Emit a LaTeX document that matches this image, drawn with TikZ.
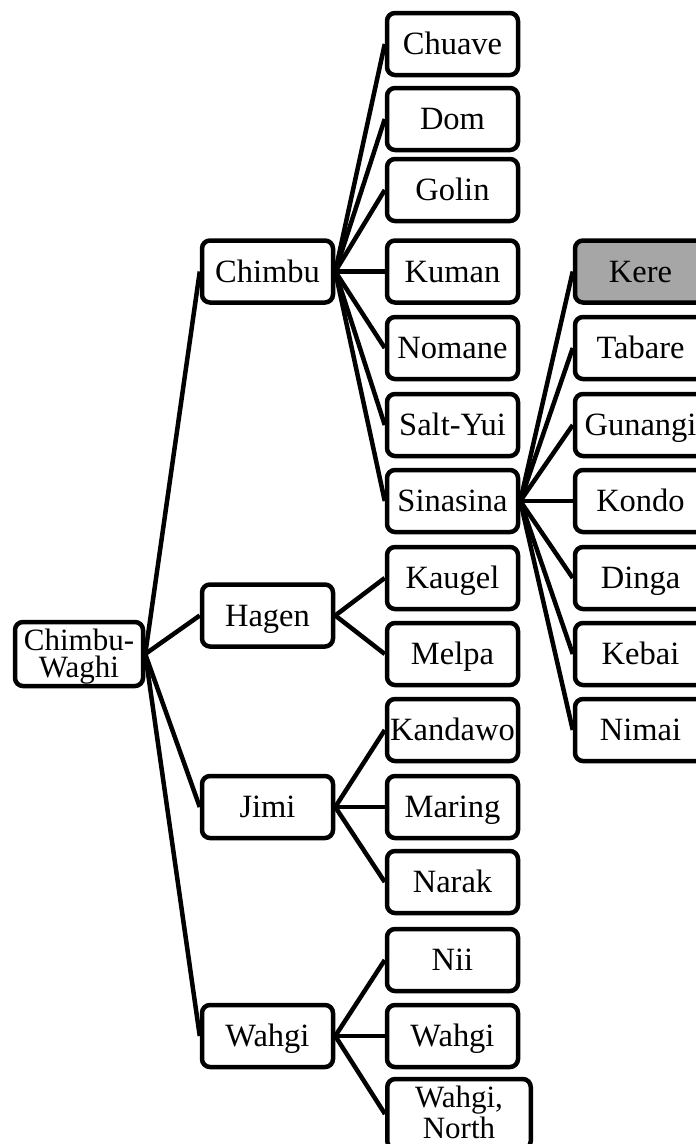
\documentclass[tikz,border=0pt]{standalone}
\usepackage{fontspec}
\setmainfont{Liberation Serif}
\definecolor{keregray}{RGB}{166,166,166}
\tikzset{
  boxframe/.style={draw=black, line width=4.5pt, rounded corners=8pt, fill=white,
    minimum width=131pt, minimum height=62pt, inner sep=0pt},
  langbox/.style={boxframe, font=\fontsize{32.5}{34}\selectfont,
    text height=21.5pt, text depth=0pt},
  linetext/.style={anchor=base, inner sep=0pt, font=\fontsize{31}{33}\selectfont},
  link/.style={draw=black, line width=4.5pt}
}
\begin{document}
\begin{tikzpicture}[x=1pt,y=-1pt]
\useasboundingbox (0,0) rectangle (696,1144);
\clip (0,0) rectangle (696,1144);
% level 0
\node[boxframe, minimum width=128pt, minimum height=64pt] (root) at (79,654) {};
\node[linetext] (rootA) at (79,650) {Chimbu-};
\node[linetext] (rootB) at (79,677) {Waghi};
% level 1
\node[langbox] (chimbu) at (267.5,271.5) {Chimbu};
\node[langbox] (hagen) at (267.5,615.5) {Hagen};
\node[langbox] (jimi) at (267.5,807) {Jimi};
\node[langbox] (wahgiA) at (267.5,1036) {Wahgi};
% level 2
\node[langbox] (chuave) at (452.5,44) {Chuave};
\node[langbox] (dom) at (452.5,119) {Dom};
\node[langbox] (golin) at (452.5,190) {Golin};
\node[langbox] (kuman) at (452.5,271.5) {Kuman};
\node[langbox] (nomane) at (452.5,348) {Nomane};
\node[langbox] (saltyui) at (452.5,425) {Salt-Yui};
\node[langbox] (sinasina) at (452.5,501) {Sinasina};
\node[langbox] (kaugel) at (452.5,578) {Kaugel};
\node[langbox] (melpa) at (452.5,654) {Melpa};
\node[langbox] (kandawo) at (452.5,730) {Kandawo};
\node[langbox] (maring) at (452.5,807) {Maring};
\node[langbox] (narak) at (452.5,882) {Narak};
\node[langbox] (nii) at (452.5,960) {Nii};
\node[langbox] (wahgiB) at (452.5,1036) {Wahgi};
\node[boxframe, minimum width=143.5pt, minimum height=70pt] (wahgiN) at (459,1114) {};
\node[linetext] (wahgiNA) at (459,1107) {Wahgi,};
\node[linetext] (wahgiNB) at (459,1138) {North};
% level 3
\node[langbox, fill=keregray] (kere) at (640.5,271.5) {Kere};
\node[langbox] (tabare) at (640.5,348) {Tabare};
\node[langbox] (gunangi) at (640.5,425) {Gunangi};
\node[langbox] (kondo) at (640.5,501) {Kondo};
\node[langbox] (dinga) at (640.5,578) {Dinga};
\node[langbox] (kebai) at (640.5,654) {Kebai};
\node[langbox] (nimai) at (640.5,730) {Nimai};
% connectors
\foreach \c in {chimbu,hagen,jimi,wahgiA} \draw[link] (root.east) -- (\c.west);
\foreach \c in {chuave,dom,golin,kuman,nomane,saltyui,sinasina} \draw[link] (chimbu.east) -- (\c.west);
\foreach \c in {kaugel,melpa} \draw[link] (hagen.east) -- (\c.west);
\foreach \c in {kandawo,maring,narak} \draw[link] (jimi.east) -- (\c.west);
\foreach \c in {nii,wahgiB,wahgiN} \draw[link] (wahgiA.east) -- (\c.west);
\foreach \c in {kere,tabare,gunangi,kondo,dinga,kebai,nimai} \draw[link] (sinasina.east) -- (\c.west);
\end{tikzpicture}
\end{document}
